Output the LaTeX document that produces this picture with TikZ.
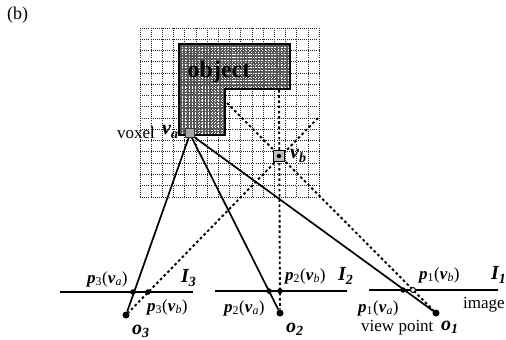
\documentclass[tikz,border=0pt]{standalone}
\usepackage{fontspec}
\setmainfont{Liberation Serif}
\tikzset{
 gridfine/.style={line width=.95pt,black!85,dash pattern=on 1pt off 1.1pt},
 rayline/.style={line width=1.7pt,black},
 raydot/.style={line width=1.9pt,black,dash pattern=on 2.6pt off 2.6pt},
 imgline/.style={line width=2.5pt,black},
 lab/.style={inner sep=0pt,font=\fontsize{17}{17}\selectfont},
 mlab/.style={inner sep=0pt,font=\fontsize{20}{20}\selectfont\bfseries\itshape},
 pdot/.style={circle,fill=black,inner sep=0pt,minimum size=7pt},
 pdotsmall/.style={circle,fill=black,inner sep=0pt,minimum size=5.5pt},
 popen/.style={circle,draw=black,fill=white,line width=1pt,inner sep=0pt,minimum size=5pt},
}
\newcommand{\pvl}[2]{\textbf{\textit{p}}\textsubscript{#1}(\textbf{\textit{v}}\textsubscript{\textit{#2}})}
\begin{document}
\begin{tikzpicture}[x=1pt,y=-1pt]
\useasboundingbox (0,0) rectangle (506,340);
% voxel grid
\foreach \x in {0,...,16} \draw[gridfine] ({140+\x*11.2},28) -- ({140+\x*11.2},197);
\foreach \y in {0,...,15} \draw[gridfine] (140,{28+\y*11.27}) -- (319,{28+\y*11.27});
% object
\fill[black!66] (179,44) -- (290,44) -- (290,89) -- (225,89) -- (225,135) -- (179,135) -- cycle;
\begin{scope}
\clip (179,44) -- (290,44) -- (290,89) -- (225,89) -- (225,135) -- (179,135) -- cycle;
\foreach \x in {0,...,40} \draw[white,line width=.6pt,dash pattern=on 1pt off 1.6pt] ({179+\x*3.3},44) -- ({179+\x*3.3},135);
\foreach \y in {0,...,32} \draw[white,line width=.6pt,dash pattern=on 1.2pt off 2pt] (179,{44+\y*3.3}) -- (290,{44+\y*3.3});
\end{scope}
\draw[line width=1.4pt,black] (179,44) -- (290,44) -- (290,89) -- (225,89) -- (225,135) -- (179,135) -- cycle;
\node[inner sep=0pt,font=\fontsize{24}{24}\selectfont\bfseries,black] (objlabel) at (219,72) {object};
% points
\coordinate (va) at (190,134);
\coordinate (vb) at (279,156);
\coordinate (objcorner) at (227,103);
\coordinate (objbottom) at (279,90);
\coordinate (gridedge) at (318,118);
\node[pdot] (o3) at (126,315) {};
\node[pdot] (o2) at (280,313) {};
\node[pdot] (o1) at (436,313) {};
% image planes
\coordinate (i3l) at (60,292); \coordinate (i3r) at (193,292);
\coordinate (i2l) at (215,291); \coordinate (i2r) at (347,291);
\coordinate (i1l) at (369,290); \coordinate (i1r) at (498,290);
\draw[imgline] (i3l) -- (i3r);
\draw[imgline] (i2l) -- (i2r);
\draw[imgline] (i1l) -- (i1r);
% rays
\draw[rayline] (va) -- (o3);
\draw[rayline] (va) -- (o2);
\draw[rayline] (va) -- (o1);
\draw[raydot] (gridedge) -- (o3);
\draw[raydot] (objbottom) -- (o2);
\draw[raydot] (objcorner) -- (o1);
% voxels
\node[draw=black,line width=1.1pt,fill=black!25,minimum size=10.5pt,inner sep=0pt] (vbbox) at (vb) {};
\node[circle,fill=black,inner sep=0pt,minimum size=4.5pt] (vbdot) at (vb) {};
\node[draw=black!80,line width=.5pt,fill=black!35,minimum size=9pt,inner sep=0pt] (vabox) at (190,133) {};
% projections
\node[pdotsmall] (p3a) at (133,292) {};
\node[pdotsmall] (p3b) at (148,292) {};
\node[pdotsmall] (p2a) at (269,291) {};
\node[pdotsmall] (p2b) at (280,291) {};
\node[pdotsmall] (p1a) at (403,290) {};
\node[popen] (p1b) at (413,290) {};
% labels
\node[lab,anchor=west,font=\fontsize{18}{18}\selectfont] (blabel) at (7,15) {(b)};
\node[lab,anchor=east] (voxel) at (155,133) {voxel};
\node[mlab,anchor=west] (valab) at (162,132) {v\textsubscript{\textit{a}}};
\node[mlab,anchor=west] (vblab) at (290,156) {v\textsubscript{\textit{b}}};
\node[lab,anchor=west] (l1) at (87,279) {\pvl{3}{a}};
\node[lab,anchor=west] (l2) at (147,307) {\pvl{3}{b}};
\node[lab,anchor=west] (l3) at (224,308) {\pvl{2}{a}};
\node[lab,anchor=west] (l4) at (285,276) {\pvl{2}{b}};
\node[lab,anchor=west] (l5) at (358,308) {\pvl{1}{a}};
\node[lab,anchor=west] (l6) at (419,275) {\pvl{1}{b}};
\node[lab,anchor=west] (vp) at (361,328) {view point};
\node[lab,anchor=west] (img) at (463,305) {image};
\node[mlab,anchor=west] (i3) at (181,278) {I\textsubscript{3}};
\node[mlab,anchor=west] (i2) at (338,276) {I\textsubscript{2}};
\node[mlab,anchor=west] (i1) at (491,275) {I\textsubscript{1}};
\node[mlab,anchor=west] (o3l) at (132,331) {o\textsubscript{3}};
\node[mlab,anchor=west] (o2l) at (286,329) {o\textsubscript{2}};
\node[mlab,anchor=west] (o1l) at (441,327) {o\textsubscript{1}};
\end{tikzpicture}
\end{document}
